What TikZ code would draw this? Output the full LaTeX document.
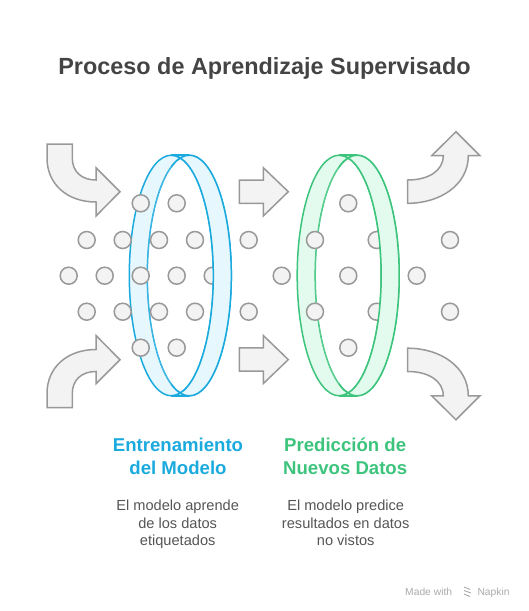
\documentclass[tikz,border=0pt]{standalone}
\usepackage{fontspec}
\setmainfont{Liberation Sans}
\definecolor{arrowdraw}{RGB}{153,153,153}
\definecolor{arrowfill}{RGB}{243,243,243}
\definecolor{ringblue}{RGB}{27,170,222}
\definecolor{fillblue}{RGB}{230,247,253}
\definecolor{ringgreen}{RGB}{60,196,124}
\definecolor{fillgreen}{RGB}{227,251,238}
\definecolor{titlegray}{RGB}{68,68,68}
\definecolor{descgray}{RGB}{85,85,85}
\definecolor{markgray}{RGB}{170,170,170}
\tikzset{
  bigarrow/.style={draw=arrowdraw, fill=arrowfill, line width=1.5pt},
  dot/.style={circle, draw=arrowdraw, fill=arrowfill, line width=1.5pt, minimum size=17pt, inner sep=0pt},
  bluerim/.style={draw=ringblue, line width=1.5pt},
  greenrim/.style={draw=ringgreen, line width=1.5pt},
  titletext/.style={text=titlegray, font=\fontsize{23.4}{28}\selectfont\bfseries, inner sep=0pt, anchor=base},
  headblue/.style={text=ringblue, font=\fontsize{18.6}{22}\selectfont\bfseries, inner sep=0pt, anchor=base},
  headgreen/.style={text=ringgreen, font=\fontsize{18.6}{22}\selectfont\bfseries, inner sep=0pt, anchor=base},
  desctext/.style={text=descgray, font=\fontsize{14.6}{17}\selectfont, inner sep=0pt, anchor=base},
  marktext/.style={text=markgray, font=\fontsize{10.3}{12}\selectfont, inner sep=0pt, anchor=base},
  ell/.style={x radius=42pt, y radius=120.3pt}
}
\begin{document}
\begin{tikzpicture}[x=1pt,y=-1pt]
\useasboundingbox (0,0) rectangle (528,611);
% centres of the rims
\coordinate (bb) at (171.3,275.5);
\coordinate (bf) at (189.3,275.5);
\coordinate (gb) at (339.2,275.5);
\coordinate (gf) at (357.2,275.5);

% title
\node[titletext] (title) at (264.5,74.3) {Proceso de Aprendizaje Supervisado};

% arrows
\draw[bigarrow] (47,144) -- (72.3,144) -- (72.3,158) .. controls (72.3,172) and (82,180) .. (96,180) -- (96,167.7) -- (120,191.7) -- (96,216) -- (96,202) .. controls (67,202) and (47,184) .. (47,158) -- cycle;
\draw[bigarrow] (47,407.5) -- (72.3,407.5) -- (72.3,393.5) .. controls (72.3,379.5) and (82,371.5) .. (96,371.5) -- (96,383.8) -- (120,359.8) -- (96,335.5) -- (96,349.5) .. controls (67,349.5) and (47,367.5) .. (47,393.5) -- cycle;
\draw[bigarrow] (239.3,180) -- (263.3,180) -- (263.3,167.7) -- (288.3,191.7) -- (263.3,216) -- (263.3,203.3) -- (239.3,203.3) -- cycle;
\draw[bigarrow] (239.3,347.8) -- (263.3,347.8) -- (263.3,335.5) -- (288.3,359.6) -- (263.3,383.6) -- (263.3,371.2) -- (239.3,371.2) -- cycle;
\draw[bigarrow] (407.7,180) .. controls (428,180) and (443.3,171) .. (443.3,155.7) -- (431.7,155.7) -- (456,131.7) -- (480,155.7) -- (468.3,155.7) .. controls (468.3,185) and (440,203.3) .. (407.7,203.3) -- cycle;
\draw[bigarrow] (407.7,371.5) .. controls (428,371.5) and (443.3,380.5) .. (443.3,395.8) -- (431.7,395.8) -- (456,419.8) -- (480,395.8) -- (468.3,395.8) .. controls (468.3,366.5) and (440,348.2) .. (407.7,348.2) -- cycle;

% back halves of the rims
\begin{scope}
  \clip (bb) ellipse [ell];
  \fill[fillblue, even odd rule] (bb) ellipse [ell] (bf) ellipse [ell];
\end{scope}
\draw[bluerim] (bb) ellipse [ell] (bf) ellipse [ell];
\draw[bluerim] (171.3,155.2) -- (189.3,155.2) (171.3,395.8) -- (189.3,395.8);
\begin{scope}
  \clip (gb) ellipse [ell];
  \fill[fillgreen, even odd rule] (gb) ellipse [ell] (gf) ellipse [ell];
\end{scope}
\draw[greenrim] (gb) ellipse [ell] (gf) ellipse [ell];
\draw[greenrim] (339.2,155.2) -- (357.2,155.2) (339.2,395.8) -- (357.2,395.8);

% data points
\foreach \x/\y [count=\i] in {140.7/203.3,176.7/203.3,
  86.7/240,122.7/240,159/240,195/240,
  68.7/275.7,104.7/275.7,140.7/275.7,176.7/275.7,212.7/275.7,
  86.7/311.7,122.7/311.7,159/311.7,195/311.7,
  140.7/347.7,176.7/347.7,
  348.3/203.3,
  248.7/240,315/240,376.7/240,450/240,
  281.7/275.7,348.3/275.7,416.7/275.7,
  248.7/311.7,315/311.7,376.7/311.7,450/311.7,
  348.3/347.7}
  \node[dot] (p\i) at (\x,\y) {};

% front halves of the rims
\begin{scope}
  \clip (bf) ellipse [ell];
  \fill[fillblue, even odd rule] (bb) ellipse [ell] (bf) ellipse [ell];
\end{scope}
\begin{scope}
  \clip (171.3,140) rectangle (240,410);
  \draw[bluerim] (bb) ellipse [ell] (bf) ellipse [ell];
  \draw[bluerim] (171.3,155.2) -- (189.3,155.2) (171.3,395.8) -- (189.3,395.8);
\end{scope}
\begin{scope}
  \clip (gf) ellipse [ell];
  \fill[fillgreen, even odd rule] (gb) ellipse [ell] (gf) ellipse [ell];
\end{scope}
\begin{scope}
  \clip (339.2,140) rectangle (408,410);
  \draw[greenrim] (gb) ellipse [ell] (gf) ellipse [ell];
  \draw[greenrim] (339.2,155.2) -- (357.2,155.2) (339.2,395.8) -- (357.2,395.8);
\end{scope}

% labels
\node[headblue] (h1a) at (178,451) {Entrenamiento};
\node[headblue] (h1b) at (178,474.3) {del Modelo};
\node[headgreen] (h2a) at (345.2,451) {Predicción de};
\node[headgreen] (h2b) at (345.2,474.3) {Nuevos Datos};
\node[desctext] (d1a) at (177.7,510.7) {El modelo aprende};
\node[desctext] (d1b) at (177.7,528) {de los datos};
\node[desctext] (d1c) at (177.7,545.3) {etiquetados};
\node[desctext] (d2a) at (345.7,510.7) {El modelo predice};
\node[desctext] (d2b) at (345.7,528) {resultados en datos};
\node[desctext] (d2c) at (345.7,545.3) {no vistos};

% watermark
\node[marktext, anchor=base west] (mw) at (405,595) {Made with};
\draw[markgray, line width=0.9pt] (464,587) -- (470,589.5) (464,590.5) -- (471,593) (464,594) -- (470,596.5);
\node[marktext, anchor=base west] (mn) at (477.3,595) {Napkin};
\end{tikzpicture}
\end{document}
